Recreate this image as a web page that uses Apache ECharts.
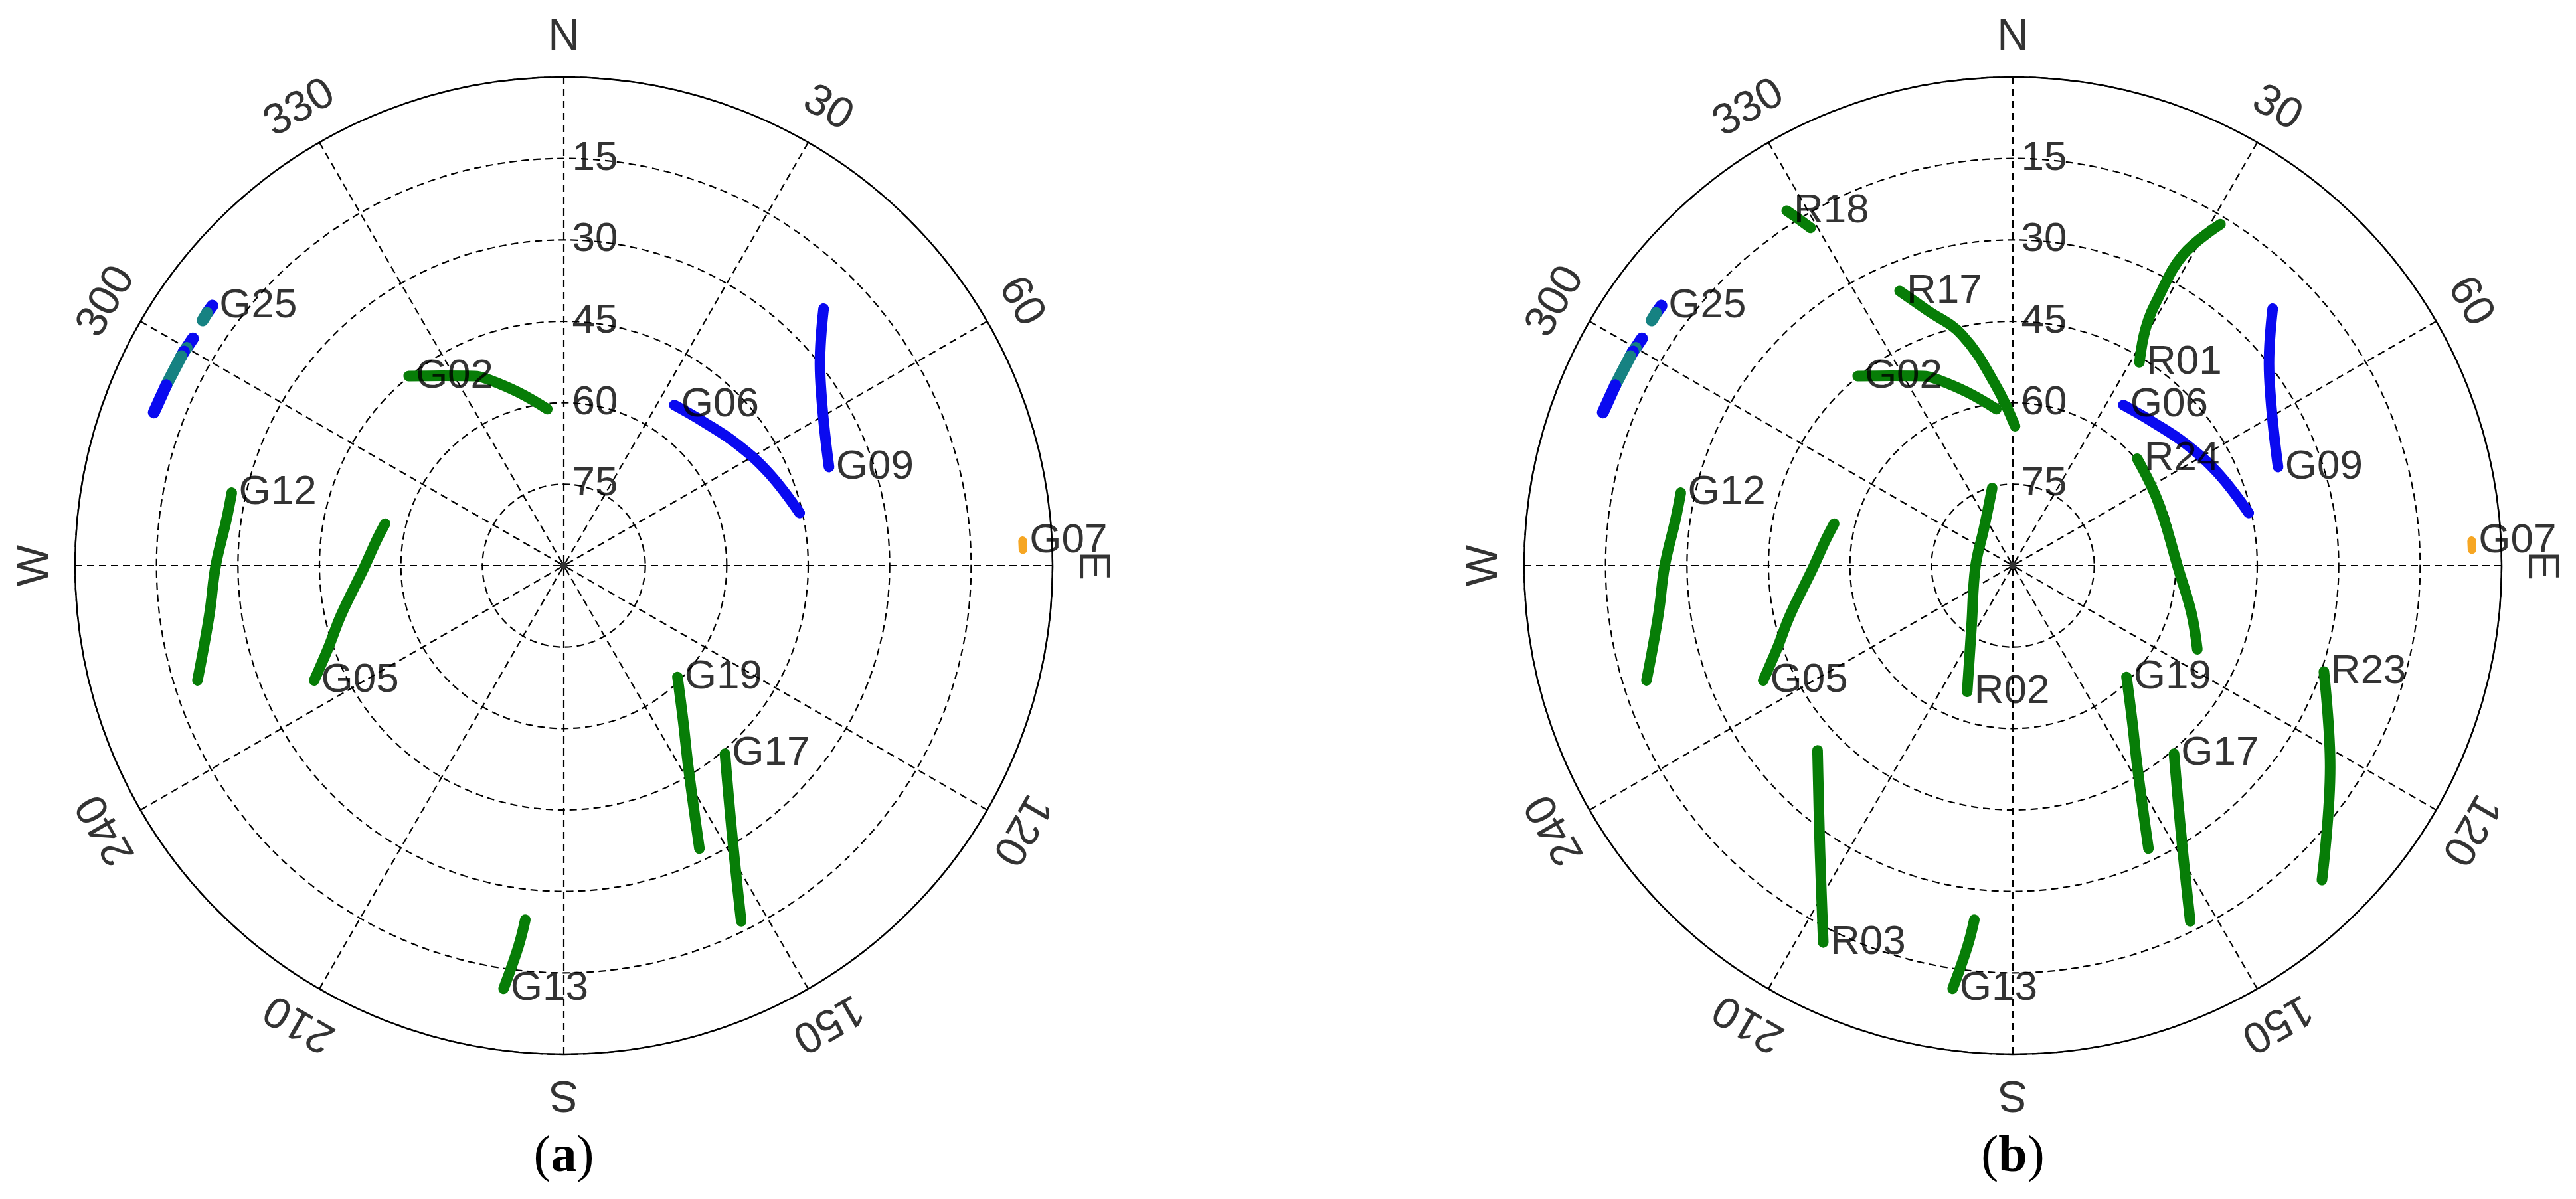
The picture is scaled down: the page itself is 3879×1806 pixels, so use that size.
<!DOCTYPE html>
<html>
<head>
<meta charset="utf-8">
<title>Skyplot</title>
<script src="https://cdn.jsdelivr.net/npm/echarts@6/dist/echarts.min.js"></script>
<style>
  html, body { margin: 0; padding: 0; background: #fff; }
  #chart { width: 3879px; height: 1806px; }
</style>
</head>
<body>
<div id="chart"></div>
<script>
// tracks: [azimuth deg, elevation deg]
// GPS (both panels)
const G25_1 = [[306.5, 9.5], [305.3, 9.5]];
const G25_2 = [[305.3, 9.5], [304.2, 9.6]];
const G25_3 = [[301.5, 9.9], [300.0, 9.8]];
const G25_4 = [[300.0, 9.8], [299.4, 9.7]];
const G25_5 = [[299.4, 9.7], [298.7, 9.7]];
const G25_6 = [[298.7, 9.7], [294.4, 9.6]];
const G25_7 = [[294.4, 9.6], [290.5, 9.4]];
const G02 = [[320.7, 44.9], [327.2, 48.4], [334.8, 51.4], [338.1, 53.1], [345.3, 57.0], [354.0, 61.0]];
const G12 = [[282.4, 27.4], [277.7, 27.3], [270.0, 25.9], [262.7, 24.3], [256.8, 21.8], [252.6, 19.3]];
const G05 = [[283.2, 56.2], [277.2, 55.1], [270.0, 53.4], [257.5, 48.0], [250.8, 44.1], [245.3, 39.4]];
const G13 = [[186.2, 24.4], [186.8, 19.3], [188.1, 11.3]];
const G19 = [[134.4, 60.7], [142.4, 54.0], [148.4, 46.2], [154.4, 32.2]];
const G17 = [[139.4, 44.4], [148.2, 31.1], [153.5, 16.8]];
const G06 = [[34.5, 54.1], [44.0, 53.1], [54.6, 51.1], [65.6, 48.6], [77.4, 45.5]];
const G09 = [[45.3, 22.7], [51.7, 29.9], [57.2, 33.5], [63.7, 36.3], [69.6, 37.9]];
const G07 = [[86.9, 5.4], [88.0, 5.4]];
// GLONASS (panel b)
const R18 = [[327.5, 12.5], [328.3, 15.0], [329.1, 17.5]];
const R17 = [[337.6, 35.3], [341.3, 40.2], [347.6, 46.5], [354.7, 56.8], [0.9, 64.3]];
const R01 = [[31.3, 16.4], [28.7, 24.7], [28.5, 34.0], [29.2, 39.8], [31.9, 45.9]];
const R24 = [[49.3, 59.8], [66.5, 60.8], [91.8, 59.4], [104.8, 56.0], [114.4, 52.7]];
const R02 = [[345.1, 75.2], [322.4, 81.3], [268.0, 83.1], [214.8, 76.7], [199.9, 65.3]];
const R03 = [[226.6, 40.5], [214.4, 27.1], [206.7, 12.3]];
const R23 = [[108.8, 29.5], [122.4, 20.8], [135.5, 8.8]];

// names and which end of the track carries them
const gpsLabels = [['G25', G25_1, 0], ['G02', G02, 0], ['G12', G12, 0], ['G05', G05, -1], ['G13', G13, -1],
  ['G19', G19, 0], ['G17', G17, 0], ['G06', G06, 0], ['G09', G09, -1], ['G07', G07, 0]];
const gloLabels = [['R18', R18, 0], ['R17', R17, 0], ['R01', R01, -1], ['R24', R24, 0], ['R02', R02, -1],
  ['R03', R03, -1], ['R23', R23, 0]];

const elevTicks = [15, 30, 45, 60, 75];
const compassAngles = [0, 30, 60, 90, 120, 150, 180, 210, 240, 270, 300, 330];
const compassNames = ['N', '30', '60', 'E', '120', '150', 'S', '210', '240', 'W', '300', '330'];

const GREEN = '#077d07', BLUE = '#0a0af0', TEAL = '#168282', ORANGE = '#f6a623';
const FONT = "'Liberation Sans', Arial, sans-serif";
const FS = 62;

const chart = echarts.init(document.getElementById('chart'));

const centers = [[849, 852], [3031, 852]];
const plotR = 736, labelR = 795;

function trackSeries(track, color, polarIndex, width) {
  return {
    type: 'line', coordinateSystem: 'polar', polarIndex: polarIndex,
    data: track.map(p => [p[1], p[0]]),
    showSymbol: false, smooth: 0.4, silent: true, z: 3,
    lineStyle: { color: color, width: width || 16, cap: 'round', join: 'round' }
  };
}

function nameSeries(list, polarIndex) {
  return {
    type: 'scatter', coordinateSystem: 'polar', polarIndex: polarIndex,
    symbolSize: 1, itemStyle: { color: 'rgba(0,0,0,0)' }, z: 5, silent: true,
    data: list.map(l => {
      const p = l[2] < 0 ? l[1][l[1].length - 1] : l[1][l[2]];
      return { name: l[0], value: [p[1], p[0]] };
    }),
    label: { show: true, position: 'right', distance: 10, formatter: '{b}',
      color: '#000', fontSize: FS, fontFamily: FONT }
  };
}

function gridSeries(polarIndex) {
  return [
    {
      type: 'scatter', coordinateSystem: 'polar', polarIndex: polarIndex,
      symbolSize: 1, itemStyle: { color: 'rgba(0,0,0,0)' }, z: 4, silent: true,
      data: elevTicks.map(e => ({ name: String(e), value: [e, 0] })),
      label: { show: true, position: 'right', distance: 12, formatter: '{b}',
        color: '#000', fontSize: FS, fontFamily: FONT }
    },
    {
      type: 'scatter', coordinateSystem: 'polar', polarIndex: polarIndex,
      symbolSize: 11, itemStyle: { color: '#000' }, z: 4, silent: true,
      data: [[90, 0]]
    },
    {
      type: 'scatter', coordinateSystem: 'polar', polarIndex: polarIndex + 1,
      symbolSize: 1, itemStyle: { color: 'rgba(0,0,0,0)' }, silent: true,
      data: compassAngles.map((a, i) => ({ name: compassNames[i], value: [1, a], label: { rotate: -a } })),
      label: { show: true, position: 'inside', formatter: '{b}',
        color: '#000', fontSize: FS + 4, fontFamily: FONT }
    }
  ];
}

function gpsSeries(polarIndex) {
  return [
    trackSeries(G25_1, BLUE, polarIndex, 18), trackSeries(G25_2, TEAL, polarIndex, 18),
    trackSeries(G25_3, BLUE, polarIndex, 18), trackSeries(G25_4, TEAL, polarIndex, 18),
    trackSeries(G25_5, BLUE, polarIndex, 18), trackSeries(G25_6, TEAL, polarIndex, 18),
    trackSeries(G25_7, BLUE, polarIndex, 18),
    trackSeries(G02, GREEN, polarIndex), trackSeries(G12, GREEN, polarIndex),
    trackSeries(G05, GREEN, polarIndex), trackSeries(G13, GREEN, polarIndex),
    trackSeries(G19, GREEN, polarIndex), trackSeries(G17, GREEN, polarIndex),
    trackSeries(G06, BLUE, polarIndex), trackSeries(G09, BLUE, polarIndex),
    trackSeries(G07, ORANGE, polarIndex, 13)
  ];
}

const dash = { color: '#000', width: 2.2, type: [11, 7] };
const polars = [], angleAxes = [], radiusAxes = [];
centers.forEach((c, k) => {
  polars.push({ center: c, radius: plotR }, { center: c, radius: labelR });
  angleAxes.push({
    polarIndex: 2 * k, type: 'value', min: 0, max: 360, interval: 30, startAngle: 90, clockwise: true,
    axisLine: { lineStyle: { color: '#000', width: 2.5 } },
    axisTick: { show: false }, axisLabel: { show: false },
    splitLine: { show: true, lineStyle: dash }
  }, {
    polarIndex: 2 * k + 1, type: 'value', min: 0, max: 360, startAngle: 90, clockwise: true, show: false
  });
  radiusAxes.push({
    polarIndex: 2 * k, type: 'value', min: 0, max: 90, interval: 15, inverse: true,
    axisLine: { show: false }, axisTick: { show: false }, axisLabel: { show: false },
    splitLine: { show: true, lineStyle: dash }
  }, {
    polarIndex: 2 * k + 1, type: 'value', min: 0, max: 1, show: false
  });
});

const series = [].concat(
  gridSeries(0), gpsSeries(0), nameSeries(gpsLabels, 0),
  gridSeries(2), gpsSeries(2),
  trackSeries(R18, GREEN, 2), trackSeries(R17, GREEN, 2), trackSeries(R01, GREEN, 2),
  trackSeries(R24, GREEN, 2), trackSeries(R02, GREEN, 2), trackSeries(R03, GREEN, 2),
  trackSeries(R23, GREEN, 2),
  nameSeries(gpsLabels, 2), nameSeries(gloLabels, 2)
);

const panelRich = {
  p: { fontFamily: "'Liberation Serif', 'Times New Roman', serif", fontSize: 78, fill: '#000' },
  b: { fontFamily: "'Liberation Serif', 'Times New Roman', serif", fontSize: 78, fontWeight: 'bold', fill: '#000' }
};

chart.setOption({
  animation: false,
  backgroundColor: '#fff',
  polar: polars,
  angleAxis: angleAxes,
  radiusAxis: radiusAxes,
  series: series,
  graphic: [
    { type: 'text', x: centers[0][0], y: 1744,
      style: { text: '{p|(}{b|a}{p|)}', rich: panelRich, align: 'center', verticalAlign: 'middle' } },
    { type: 'text', x: centers[1][0], y: 1744,
      style: { text: '{p|(}{b|b}{p|)}', rich: panelRich, align: 'center', verticalAlign: 'middle' } }
  ]
});
</script>
</body>
</html>
